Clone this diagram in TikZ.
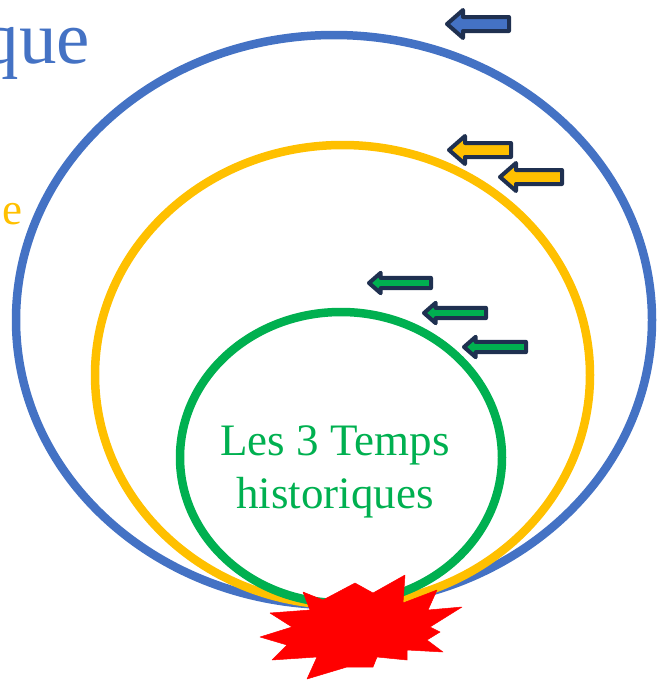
\documentclass[tikz,border=0pt]{standalone}
\usepackage{fontspec}
\setmainfont{Liberation Serif}
\usetikzlibrary{arrows.meta, calc, positioning}
\definecolor{ringblue}{HTML}{4472C4}
\definecolor{ringgold}{HTML}{FFC000}
\definecolor{ringgreen}{HTML}{00B050}
\definecolor{arrowline}{HTML}{1F3050}
\tikzset{
  ring/.style      = {line width=8.5pt},
  pusharrow/.style = {draw=arrowline, line width=4pt, line join=round},
  burst/.style     = {fill=red, draw=red, line width=0.5pt, line join=round},
  lbl/.style       = {font=\fontsize{45}{53}\selectfont, inner sep=0pt},
}
\newcommand{\pushsketch}[4]{%
  \pgfmathsetmacro{\arrhead}{14*#3}
  \pgfmathsetmacro{\arrbody}{7*#3}
  \pgfmathsetmacro{\arrtip}{16*#3}
  \filldraw[pusharrow, fill=#4] (#1,#2) -- ++(\arrtip,-\arrhead)
    -- (#1+\arrtip,#2-\arrbody) -- (#1+62,#2-\arrbody)
    -- (#1+62,#2+\arrbody) -- (#1+\arrtip,#2+\arrbody)
    -- (#1+\arrtip,#2+\arrhead) -- cycle;
}

\begin{document}
\begin{tikzpicture}[x=1pt, y=-1pt]
  \useasboundingbox (0,0) rectangle (658,680);
  % the three rings
  \draw[ring, ringblue]  (334,320) ellipse [x radius=318, y radius=285];
  \draw[ring, ringgold]  (342.5,375) ellipse [x radius=247.5, y radius=230];
  \draw[ring, ringgreen] (341,457.5) ellipse [x radius=161, y radius=145.5];
  % the burst at the bottom
  \filldraw[burst] (303,592) -- (323,600) -- (355,583) -- (373,593) -- (405,575)
    -- (403,603) -- (437,590) -- (428,610) -- (462,607) -- (430,627)
    -- (440,632) -- (427,640) -- (443,652) -- (407,650) -- (407,660)
    -- (377,657) -- (373,667) -- (347,667) -- (307,679) -- (317,657)
    -- (272,660) -- (287,645) -- (260,637) -- (292,627) -- (270,613)
    -- (310,610) -- cycle;
  % labels
  \node[lbl, ringgreen, anchor=base] (lestemps) at (335,455) {Les 3 Temps};
  \node[lbl, ringgreen, anchor=base] (histo) at (335,508) {historiques};
  \node[lbl, ringblue, anchor=base east, font=\fontsize{75}{80}\selectfont] (cosmo) at (90,63) {que};
  \node[lbl, ringgold, anchor=base west] (geo) at (2,224) {e};
  % arrows
  \pushsketch{447}{24}{1}{ringblue}
  \pushsketch{449}{150}{1}{ringgold}
  \pushsketch{500}{177}{1}{ringgold}
  \pushsketch{369}{283}{0.73}{ringgreen}
  \pushsketch{424}{313}{0.73}{ringgreen}
  \pushsketch{464}{347}{0.73}{ringgreen}
\end{tikzpicture}
\end{document}
